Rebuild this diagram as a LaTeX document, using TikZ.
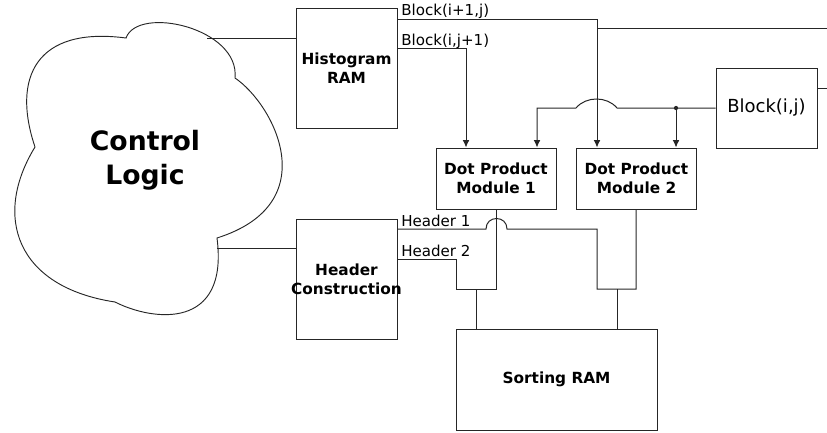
\documentclass[tikz,border=0pt]{standalone}
\usepackage{fontspec}
\setmainfont{DejaVu Sans}
\usetikzlibrary{arrows.meta}
\begin{document}
\begin{tikzpicture}[x=0.75pt,y=-0.75pt,
  box/.style={draw=black!85, line width=0.75pt, fill=white, inner sep=0pt, align=center, font=\fontsize{11.5}{14.2}\selectfont\bfseries},
  boxtext/.style={align=center, inner sep=0pt, font=\fontsize{11.5}{14.2}\selectfont\bfseries},
  wire/.style={draw=black!85, line width=0.75pt},
  arr/.style={wire, -{Latex[length=5.5pt,width=5pt]}},
  lbl/.style={anchor=base west, inner sep=0pt, font=\fontsize{11.3}{13}\selectfont}
]
\useasboundingbox (0,0) rectangle (827,432);

% cloud
\draw[wire, line width=0.7pt]
  (126,38) .. controls (138,5) and (240,28) .. (235,78)
  .. controls (274,104.5) and (326,203.5) .. (217,238)
  .. controls (229,330) and (153.7,321.6) .. (115,302)
  .. controls (16.3,287) and (-7.6,216.6) .. (35,147)
  .. controls (11.6,77.5) and (36.1,26.2) .. (126,38)
  -- cycle;
\node[align=center, font=\fontsize{20}{25.5}\selectfont\bfseries] (ctrl) at (145,160) {Control\\Logic};

% boxes
\node[box, minimum width=75.75pt, minimum height=90pt] (hist) at (346.5,68) {Histogram\\RAM};
\node[box, minimum width=75.75pt, minimum height=90pt] (hdr) at (346.5,279) {};
\node[boxtext] (hdrtext) at (hdr.center) {Header\\Construction};
\node[box, minimum width=90pt, minimum height=45.75pt] (dp1) at (496,178.5) {Dot Product\\Module 1};
\node[box, minimum width=90pt, minimum height=45.75pt] (dp2) at (636.5,178.5) {Dot Product\\Module 2};
\node[box, minimum width=75.75pt, minimum height=60pt, font=\fontsize{13.5}{16}\selectfont] (blk) at (766.5,108) {Block(i,j)};
\node[box, minimum width=150.75pt, minimum height=75.75pt] (sort) at (556.5,379.5) {Sorting RAM};

% cloud connectors
\coordinate (cA) at (207,38);
\coordinate (cB) at (217,248);
\draw[wire] (cA) -- (hist.west |- cA);
\draw[wire] (cB) -- (hdr.west |- cB);

% Block(i+1,j)
\draw[arr] (hist.east |- 0,19) -| (dp2.north -| 597,0);
\coordinate (jA) at (597,28);
\coordinate (offA) at (827,28);
\draw[wire] (jA) -- (offA);
\coordinate (offB) at (827,88);
\draw[wire] (blk.east |- offB) -- (offB);

% Block(i,j+1)
\draw[arr] (hist.east |- 0,48) -| (dp1.north -| 466,0);

% Block(i,j)
\draw[arr] (blk.west) -- (617,108) .. controls (607,96) and (586,96) .. (576,108) -| (dp1.north -| 537,0);
\coordinate (jB) at (676,108);
\fill[black!85] (jB) circle[radius=1.6pt];
\draw[arr] (jB) -- (dp2.north -| jB);

% Header 1
\draw[wire] (hdr.east |- 0,229) -- (486,229) .. controls (486,215) and (507,215) .. (507,229) -| (597,289) -| (dp2.south -| 636,0);
% Header 2
\draw[wire] (hdr.east |- 0,259) -| (456,289) -| (dp1.south);
% to sorting RAM
\draw[wire] (476,289) -- (sort.north -| 476,0);
\draw[wire] (617,289) -- (sort.north -| 617,0);

% labels
\node[lbl] (l1) at (401,15.5) {Block(i+1,j)};
\node[lbl] (l2) at (401,45) {Block(i,j+1)};
\node[lbl] (l3) at (401,226) {Header 1};
\node[lbl] (l4) at (401,256) {Header 2};
\end{tikzpicture}
\end{document}
